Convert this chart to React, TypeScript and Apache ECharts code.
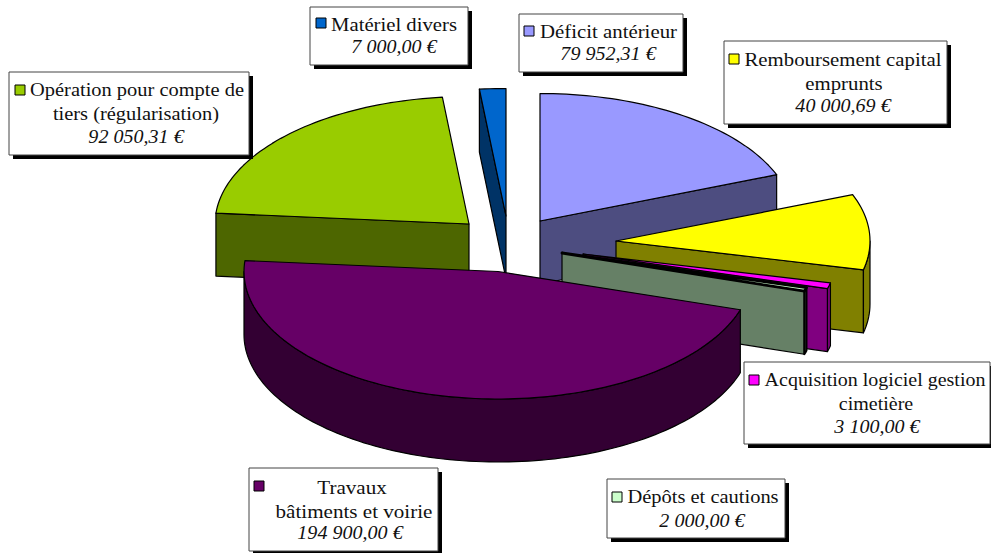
import React, { useEffect, useRef } from "react";
import * as echarts from "echarts";

const categories = [
  "Déficit antérieur",
  "Remboursement capital emprunts",
  "Acquisition logiciel gestion cimetière",
  "Dépôts et cautions",
  "Travaux bâtiments et voirie",
  "Opération pour compte de tiers (régularisation)",
  "Matériel divers",
];
const values = [79952.31, 40000.69, 3100, 2000, 194900, 92050.31, 7000];
const valueLabels = [
  "79 952,31 €",
  "40 000,69 €",
  "3 100,00 €",
  "2 000,00 €",
  "194 900,00 €",
  "92 050,31 €",
  "7 000,00 €",
];
const labelLines = [
  ["Déficit antérieur"],
  ["Remboursement capital", "emprunts"],
  ["Acquisition logiciel gestion", "cimetière"],
  ["Dépôts et cautions"],
  ["Travaux", "bâtiments et voirie"],
  ["Opération pour compte de", "tiers (régularisation)"],
  ["Matériel divers"],
];
const topColors = ["#9999FF", "#FFFF00", "#FF00FF", "#CCFFCC", "#660066", "#99CC00", "#0066CC"];
const sideColors = ["#4D4D80", "#808000", "#800080", "#668066", "#330033", "#4D6600", "#003366"];

// exploded apex of every slice, on screen
const apexes = [
  [540, 221],
  [616, 241],
  [583, 254],
  [562, 253],
  [498, 271.5],
  [469, 224],
  [506, 216],
];
const drawOrder = [6, 0, 5, 1, 2, 3, 4];
const RX = 254;
const RY = 127.5;
const DEPTH = 63;

// box: x0, y0, x1, y1; key x, y; text centres; s = horizontal stretch of the name lines
const boxes = [
  { b: [519, 14, 683, 72], k: [524, 26], cx: [608.5], vx: 608, y: [31], vy: 54, s: 1.125 },
  { b: [724, 41, 947, 124], k: [729, 54], cx: [843, 844], vx: 843, y: [59, 83], vy: 106, s: 1.125 },
  { b: [744, 362, 990, 444], k: [749, 375], cx: [875, 876], vx: 877, y: [380, 404], vy: 427, s: 1.08 },
  { b: [607, 479, 785, 538], k: [612, 492], cx: [703], vx: 702, y: [497], vy: 521, s: 1.107 },
  { b: [249, 468, 438, 551], k: [254, 481], cx: [352, 354], vx: 350, y: [487, 511], vy: 533, s: 1.14 },
  { b: [9, 72, 249, 155], k: [15, 85], cx: [137, 136], vx: 136, y: [90, 114], vy: 137, s: 1.105 },
  { b: [310, 7, 468, 65], k: [316, 18], cx: [394], vx: 394, y: [24], vy: 47, s: 1.12 },
];

const FONT = '"Liberation Serif", "DejaVu Serif", serif';
const FONT_SIZE = 18.5;
const VALUE_STRETCH = 1.085;

const total = values.reduce((a, b) => a + b, 0);
const cumulative: number[] = [];
values.reduce((acc, v, i) => {
  cumulative[i] = acc;
  return acc + v;
}, 0);

const renderSlice = (_params: any, api: any) => {
  const value = api.value(0);
  const i = api.value(1);
  const a0 = (cumulative[i] / total) * 360;
  const a1 = a0 + (value / total) * 360;
  const [ax, ay] = apexes[i];
  const pt = (deg: number, dy = 0) => {
    const r = (deg * Math.PI) / 180;
    return [ax + RX * Math.sin(r), ay - RY * Math.cos(r) + dy];
  };
  const arc = (from: number, to: number, dy = 0) => {
    const out: number[][] = [];
    const n = Math.max(2, Math.ceil((to - from) / 1.5));
    for (let k = 0; k <= n; k++) out.push(pt(from + ((to - from) * k) / n, dy));
    return out;
  };
  // the thinnest slice closes up to its outlines, as in a low-resolution render
  const thin = a1 - a0 < 2;
  const poly = (points: number[][], fill: string, lineWidth = 1.2) => ({
    type: "polygon",
    shape: { points },
    style: { fill, stroke: "#000", lineWidth, lineJoin: "round" },
  });
  const children: any[] = [];
  const side = sideColors[i];
  // radial faces turned to the viewer
  if (a0 >= 180 && a0 < 360) {
    children.push(poly([[ax, ay], pt(a0), pt(a0, DEPTH), [ax, ay + DEPTH]], side));
  }
  if (a1 > 0 && a1 < 180) {
    children.push(poly([[ax, ay], pt(a1), pt(a1, DEPTH), [ax, ay + DEPTH]], side));
  }
  // outer wall, front half of the rim only
  const w0 = Math.max(a0, 90);
  const w1 = Math.min(a1, 270);
  if (w1 > w0) {
    children.push(poly([...arc(w0, w1), ...arc(w0, w1, DEPTH).reverse()], side, thin ? 2 : 1.2));
  }
  children.push(poly([[ax, ay], ...arc(a0, a1)], topColors[i], thin ? 2.8 : 1.2));
  return { type: "group", children };
};

const buildLabels = () => {
  const out: any[] = [];
  boxes.forEach((box, i) => {
    const [x0, y0, x1, y1] = box.b;
    out.push({
      type: "rect",
      z: 100,
      shape: { x: x0 + 4, y: y0 + 4, width: x1 - x0, height: y1 - y0 },
      style: { fill: "#000" },
    });
    out.push({
      type: "rect",
      z: 101,
      shape: { x: x0, y: y0, width: x1 - x0, height: y1 - y0 },
      style: { fill: "#fff", stroke: "#444", lineWidth: 1 },
    });
    out.push({
      type: "rect",
      z: 102,
      shape: { x: box.k[0], y: box.k[1], width: 10, height: 10 },
      style: { fill: topColors[i], stroke: "#000", lineWidth: 1 },
    });
    labelLines[i].forEach((line, l) => {
      out.push({
        type: "text",
        z: 102,
        x: box.cx[l],
        y: box.y[l],
        scaleX: box.s,
        style: {
          text: line,
          fill: "#111",
          font: `${FONT_SIZE}px ${FONT}`,
          align: "center",
          verticalAlign: "middle",
        },
      });
    });
    out.push({
      type: "text",
      z: 102,
      x: box.vx,
      y: box.vy,
      scaleX: VALUE_STRETCH,
      style: {
        text: valueLabels[i],
        fill: "#111",
        font: `italic ${FONT_SIZE}px ${FONT}`,
        align: "center",
        verticalAlign: "middle",
      },
    });
  });
  return out;
};

export default function App() {
  const ref = useRef<HTMLDivElement>(null);
  useEffect(() => {
    document.body.style.margin = "0";
    const chart = echarts.init(ref.current!, null, { renderer: "svg" });
    chart.setOption({
      animation: false,
      backgroundColor: "#fff",
      series: [
        {
          type: "custom",
          coordinateSystem: "none",
          clip: false,
          renderItem: renderSlice,
          data: drawOrder.map((i) => ({ name: categories[i], value: [values[i], i] })),
        },
      ],
      graphic: { elements: buildLabels() },
    });
    return () => chart.dispose();
  }, []);
  return <div ref={ref} style={{ width: 991, height: 553 }} />;
}
